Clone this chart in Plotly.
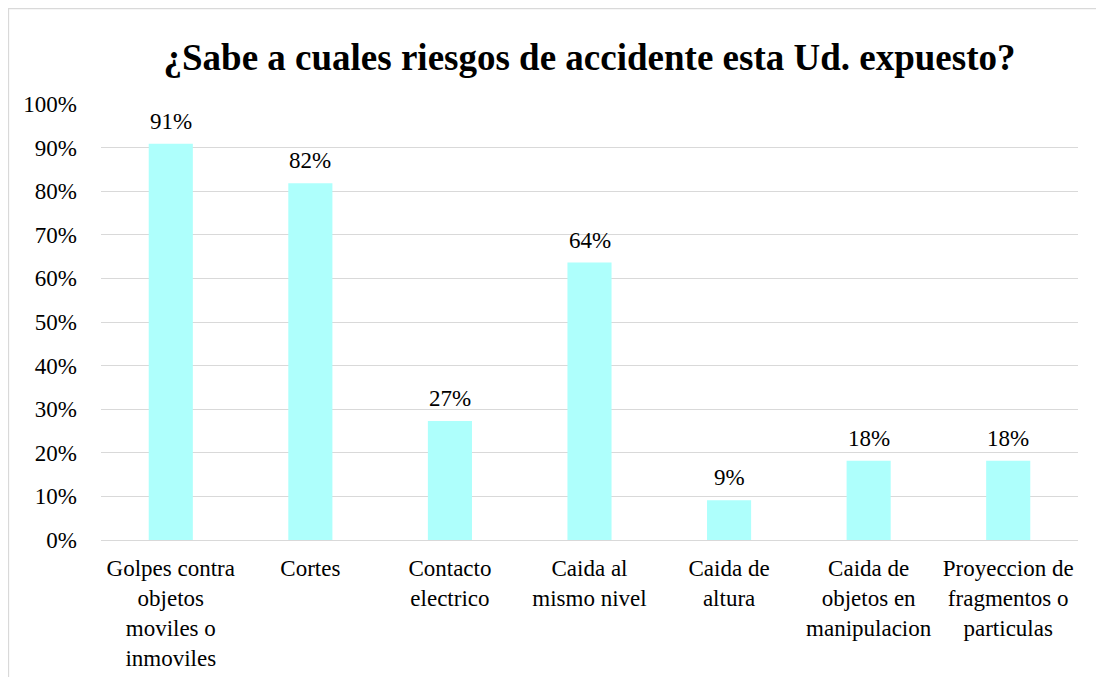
import plotly.graph_objects as go

categories = [
    "Golpes contra<br>objetos<br>moviles o<br>inmoviles",
    "Cortes",
    "Contacto<br>electrico",
    "Caida al<br>mismo nivel",
    "Caida de<br>altura",
    "Caida de<br>objetos en<br>manipulacion",
    "Proyeccion de<br>fragmentos o<br>particulas",
]
values = [10/11, 9/11, 3/11, 7/11, 1/11, 2/11, 2/11]
value_labels = ["91%", "82%", "27%", "64%", "9%", "18%", "18%"]
tick_vals = [i / 10 for i in range(11)]
tick_text = [f"{i*10}%" for i in range(11)]
title_text = "¿Sabe a cuales riesgos de accidente esta Ud. expuesto?"

# figure sits at page offset (8, 8) because of the body margin
W, H = 1096, 669
L, R, T, B = 93, 26, 96, 137
pw, ph = W - L - R, H - T - B

def px_x(px):
    return (px - L) / pw

def px_y(py):
    return (H - B - py) / ph

FONT = "Liberation Serif"
FS = 23

fig = go.Figure(
    go.Bar(
        x=categories,
        y=values,
        marker=dict(color="#AEFFFC", line=dict(width=0)),
        width=0.316,
        hoverinfo="x+y",
    )
)

annotations = [
    dict(
        x=c, y=v, xref="x", yref="y", text=t, showarrow=False,
        yanchor="bottom", xanchor="center", yshift=8,
        font=dict(family=FONT, size=FS, color="#000000"),
    )
    for c, v, t in zip(categories, values, value_labels)
]

fig.update_layout(
    width=W,
    height=H,
    margin=dict(l=L, r=R, t=T, b=B, autoexpand=False),
    paper_bgcolor="white",
    plot_bgcolor="white",
    showlegend=False,
    title=dict(
        text=f"<b>{title_text}</b>",
        x=0.5,
        xanchor="center",
        xref="paper",
        y=1 - 49 / H,
        yanchor="middle",
        yref="container",
        font=dict(family=FONT, size=37, color="#000000"),
    ),
    font=dict(family=FONT, size=FS, color="#000000"),
    xaxis=dict(
        showgrid=False,
        showline=False,
        ticks="",
        automargin=False,
        ticklabelstandoff=12,
        tickfont=dict(family=FONT, size=FS, color="#000000"),
        tickangle=0,
    ),
    yaxis=dict(
        range=[0, 1.0],
        tickvals=tick_vals,
        ticktext=tick_text,
        showgrid=True,
        gridcolor="#D9D9D9",
        gridwidth=1.3,
        zeroline=True,
        zerolinecolor="#D9D9D9",
        zerolinewidth=1.3,
        showline=False,
        ticks="",
        automargin=False,
        ticklabelstandoff=23,
        tickfont=dict(family=FONT, size=FS, color="#000000"),
    ),
    annotations=annotations,
    shapes=[
        dict(
            type="line", xref="paper", yref="paper",
            x0=px_x(0), x1=px_x(W + 5), y0=px_y(0.5), y1=px_y(0.5),
            line=dict(color="#D9D9D9", width=1.3),
        ),
        dict(
            type="line", xref="paper", yref="paper",
            x0=px_x(0.5), x1=px_x(0.5), y0=px_y(0), y1=px_y(H + 5),
            line=dict(color="#D9D9D9", width=1.3),
        ),
    ],
)

fig.write_html("out.html")
